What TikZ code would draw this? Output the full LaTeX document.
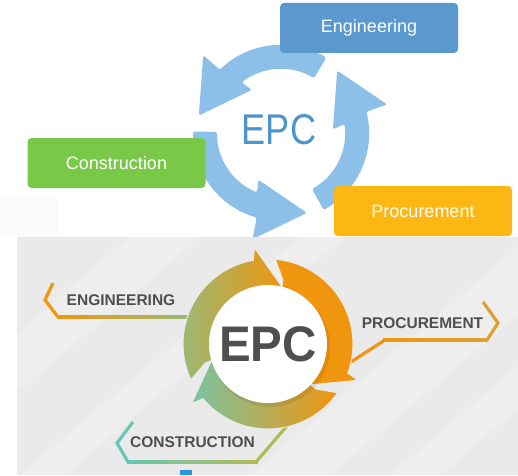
\documentclass[tikz,border=0pt]{standalone}
\usepackage{fontspec}
\setmainfont{Liberation Sans}
\usetikzlibrary{positioning}

\definecolor{engblue}{RGB}{90,152,205}
\definecolor{congreen}{RGB}{122,200,72}
\definecolor{proyellow}{RGB}{253,183,18}
\definecolor{ringblue}{RGB}{141,192,232}
\definecolor{epcblue}{RGB}{78,148,204}
\definecolor{panelgray}{RGB}{234,234,235}
\definecolor{arrorange}{RGB}{240,149,14}
\definecolor{arrgreen}{RGB}{150,186,120}
\definecolor{arrteal}{RGB}{122,196,162}
\definecolor{labelgray}{RGB}{79,79,81}
\definecolor{lineochre}{RGB}{222,160,50}
\definecolor{lineteal}{RGB}{104,199,178}
\definecolor{lineolive}{RGB}{178,186,88}
\definecolor{markblue}{RGB}{40,150,225}

\tikzset{
  phasebox/.style={rectangle, rounded corners=4pt, minimum width=178pt,
    minimum height=50pt, text=white, font=\fontsize{18}{18}\selectfont},
  phaselabel/.style={text=labelgray, inner sep=0pt,
    font=\bfseries\fontsize{15.5}{15.5}\selectfont},
  chevron/.style={line width=3.2pt, line join=miter},
}

\begin{document}
\begin{tikzpicture}[x=1pt,y=1pt]
\useasboundingbox (0,0) rectangle (518,475);

% upper panel: blue cycle
\fill[gray!3] (0,238) rectangle (58,278);
\foreach \r in {0,120,240}
  \fill[ringblue, shift={(281,342)}, rotate=\r, rounded corners=1.5pt]
    (59:88) arc[start angle=59, end angle=134, radius=88] -- (135:110)
    -- (168:84) -- (124:52) -- (128:64)
    arc[start angle=128, end angle=59, radius=64] -- cycle;

\node[text=epcblue, font=\fontsize{43}{43}\selectfont, xscale=0.84, transform shape] (epctop) at (279,345) {EPC};

\node[phasebox, fill=engblue] (eng) at (369,447) {Engineering};
\node[phasebox, fill=congreen] (con) at (116.5,312) {Construction};
\node[phasebox, fill=proyellow] (pro) at (423,264) {Procurement};

% lower panel
\fill[panelgray] (17,0) rectangle (518,238);
\begin{scope}
  \clip (17,0) rectangle (518,238);
  \foreach \a/\w in {-150/70, 20/45, 250/80, 390/50}
    \fill[white, opacity=0.22] (\a,0) -- (\a+280,238) -- (\a+280+\w,238) -- (\a+\w,0) -- cycle;
\end{scope}

% label lines
\draw[chevron, arrorange] (53,192) -- (45,175) -- (58,158);
\shade[left color=arrorange, right color=arrgreen] (57,156.4) rectangle (192,159.6);
\draw[chevron, lineochre] (483,173) -- (498,152) -- (487,135);
\shade[left color=arrorange, right color=lineochre] (383,133.4) rectangle (488,136.6);
\draw[chevron, arrorange] (385,135) -- (340,106);
\draw[chevron, lineteal] (133,53) -- (117,32) -- (128,13);
\shade[left color=lineteal, right color=lineolive] (127,11.4) rectangle (258,14.6);
\draw[chevron, lineolive] (256,13) -- (292,55);

% gradient cycle
\shade[left color=arrgreen, right color=arrorange, draw=panelgray, line width=1pt, shift={(268,131)}]
  (205:85) arc[start angle=205, end angle=100, radius=85] -- (98:97) -- (74:57)
  -- (74:50) arc[start angle=74, end angle=195, radius=50] -- (197:66) -- cycle;
\fill[arrorange, draw=panelgray, line width=1pt, shift={(268,131)}]
  (85:85) arc[start angle=85, end angle=-20, radius=85] -- (-22:97) -- (-46:57)
  -- (-46:50) arc[start angle=-46, end angle=75, radius=50] -- (77:66) -- cycle;
\shade[left color=arrteal, right color=arrorange, draw=panelgray, line width=1pt, shift={(268,131)}]
  (-35:85) arc[start angle=-35, end angle=-140, radius=85] -- (-142:97) -- (-166:57)
  -- (-166:50) arc[start angle=-166, end angle=-45, radius=50] -- (-43:66) -- cycle;

\fill[black, opacity=0.08] (270,128) circle[radius=60];
\fill[white] (268,131) circle[radius=59];
\node[text=labelgray, font=\bfseries\fontsize{50}{50}\selectfont, xscale=0.95, transform shape] (epc) at (268,131) {EPC};

\node[phaselabel] (englabel) at (121,175) {ENGINEERING};
\node[phaselabel] (prolabel) at (422.5,152) {PROCUREMENT};
\node[phaselabel] (conlabel) at (192.5,33) {CONSTRUCTION};

\fill[markblue] (180,0) rectangle (192,5);
\end{tikzpicture}
\end{document}
